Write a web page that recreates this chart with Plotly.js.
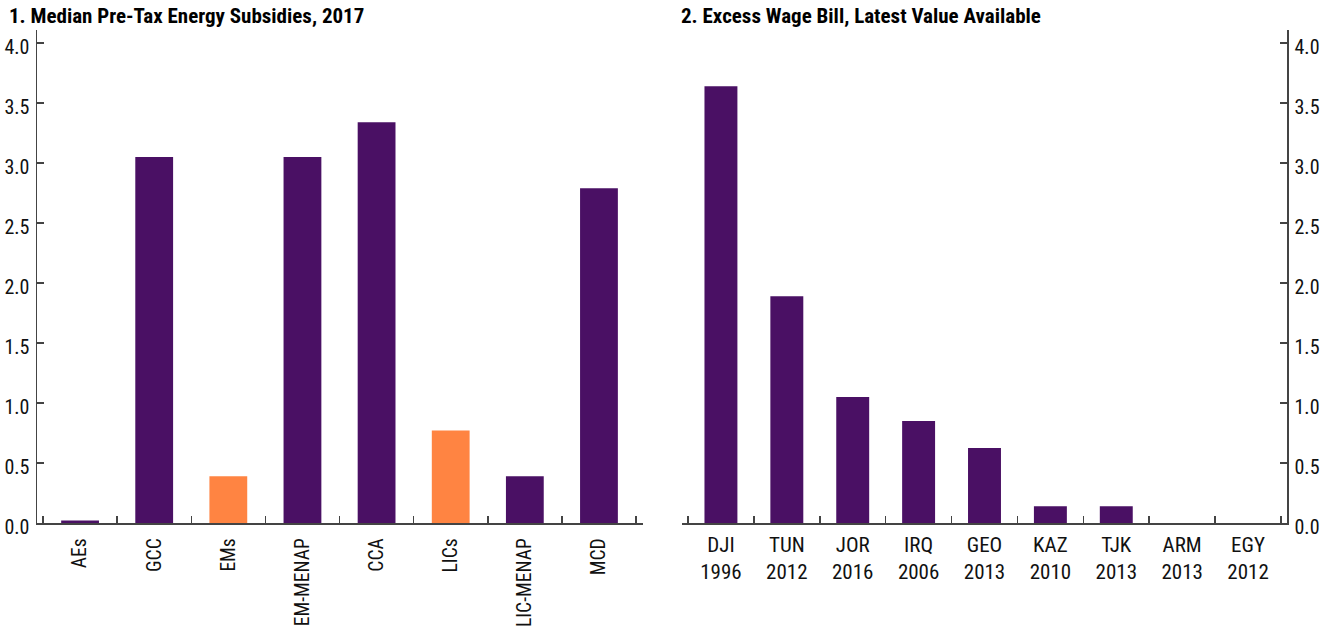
<!DOCTYPE html>
<html>
<head>
<meta charset="utf-8">
<script src="https://cdn.plot.ly/plotly-3.0.1.min.js"></script>
<style>html,body{margin:0;padding:0;background:#fff;} #chart{width:1327px;height:627px;}</style>
</head>
<body>
<div id="chart"></div>
<script>
// Panel 1: Median pre-tax energy subsidies, 2017
const cats1 = ['AEs', 'GCC', 'EMs', 'EM-MENAP', 'CCA', 'LICs', 'LIC-MENAP', 'MCD'];
const vals1 = [0.02, 3.05, 0.39, 3.05, 3.34, 0.77, 0.39, 2.79];
const highlight1 = [false, false, true, false, false, true, false, false];

// Panel 2: Excess wage bill, latest value available
const cats2 = ['DJI', 'TUN', 'JOR', 'IRQ', 'GEO', 'KAZ', 'TJK', 'ARM', 'EGY'];
const years2 = ['1996', '2012', '2016', '2006', '2013', '2010', '2013', '2013', '2012'];
const vals2 = [3.64, 1.89, 1.05, 0.85, 0.625, 0.14, 0.14, 0, 0];

const yTicks = [0, 0.5, 1, 1.5, 2, 2.5, 3, 3.5, 4];

const PURPLE = '#4a1064';
const ORANGE = '#ff8442';
const AX = '#444444';
const FONT = '"Liberation Sans Narrow", "Roboto Condensed", "DejaVu Sans Condensed", "Arial Narrow", sans-serif';

const labels2 = cats2.map((c, i) => c + '<br>' + years2[i]);

const data = [
  {
    type: 'bar', x: cats1, y: vals1, xaxis: 'x', yaxis: 'y',
    marker: {color: highlight1.map(h => h ? ORANGE : PURPLE)},
    width: 0.51, hoverinfo: 'x+y'
  },
  {
    type: 'bar', x: labels2, y: vals2, xaxis: 'x2', yaxis: 'y2',
    marker: {color: PURPLE}, width: 0.5, hoverinfo: 'x+y'
  }
];

const W = 1327, H = 627;
const yDom = [(H - 523) / H, (H - 30) / H];
const yRange = [0, (523 - 30) / 120];

const baseY = {
  range: yRange, domain: yDom, tickmode: 'array', tickvals: yTicks,
  ticktext: yTicks.map(v => v.toFixed(1)),
  showgrid: false, zeroline: false, ticks: 'inside', ticklen: 7,
  tickcolor: AX, tickwidth: 1.5, tickfont: {family: FONT, size: 20, color: '#111'}
};

const baseX = {
  type: 'category', showgrid: false, zeroline: false, showline: true,
  linecolor: AX, linewidth: 1.5, ticks: 'inside', ticklen: 7, tickcolor: AX,
  tickwidth: 1.5, tickson: 'boundaries', fixedrange: true
};

const layout = {
  width: W, height: H, autosize: false,
  margin: {l: 0, r: 0, t: 0, b: 0, pad: 0},
  paper_bgcolor: '#fff', plot_bgcolor: 'rgba(0,0,0,0)',
  showlegend: false, bargap: 0.5,
  font: {family: FONT, color: '#111'},
  xaxis: Object.assign({}, baseX, {
    domain: [37 / W, 643 / W], range: [-0.581, 7.594], anchor: 'y',
    tickangle: -90, tickfont: {family: FONT, size: 19.5, color: '#111'},
    ticklabelstandoff: 6
  }),
  yaxis: Object.assign({}, baseY, {
    anchor: 'x', side: 'left', showline: true, linecolor: AX, linewidth: 1.5,
    ticklabelstandoff: 2, ticklabelshift: 4
  }),
  yaxis3: Object.assign({}, baseY, {
    anchor: 'x', overlaying: 'y', side: 'right', showline: false,
    showticklabels: false, ticklen: 6
  }),
  xaxis2: Object.assign({}, baseX, {
    domain: [682 / W, 1287 / W], range: [-0.591, 8.591], anchor: 'y2',
    tickangle: 0, tickfont: {family: FONT, size: 21, color: '#111'},
    ticklabelstandoff: 2
  }),
  yaxis2: Object.assign({}, baseY, {
    anchor: 'x2', side: 'right', showline: true, linecolor: AX, linewidth: 1.5,
    ticklabelstandoff: 2, ticklabelshift: 4
  }),
  yaxis4: Object.assign({}, baseY, {
    anchor: 'x2', overlaying: 'y2', side: 'left', showline: false,
    showticklabels: false, ticklen: 6
  }),
  annotations: [
    {
      text: '<b>1. Median Pre-Tax Energy Subsidies, 2017</b>',
      xref: 'paper', yref: 'paper', x: 7 / W, y: 1 - 2 / H,
      xanchor: 'left', yanchor: 'top', showarrow: false,
      font: {family: FONT, size: 21, color: '#000'}
    },
    {
      text: '<b>2. Excess Wage Bill, Latest Value Available</b>',
      xref: 'paper', yref: 'paper', x: 679 / W, y: 1 - 2 / H,
      xanchor: 'left', yanchor: 'top', showarrow: false,
      font: {family: FONT, size: 21, color: '#000'}
    }
  ]
};

Plotly.newPlot('chart', data, layout, {displayModeBar: false, staticPlot: true});
</script>
</body>
</html>
